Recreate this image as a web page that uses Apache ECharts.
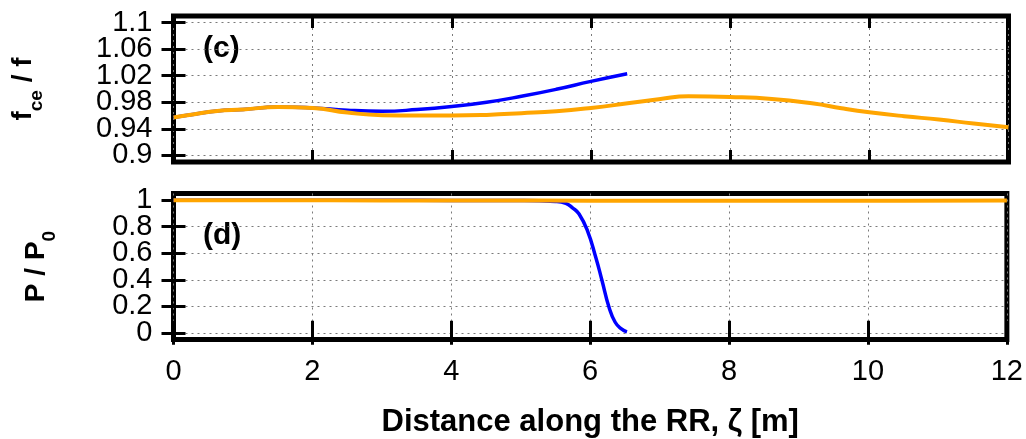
<!DOCTYPE html>
<html>
<head>
<meta charset="utf-8">
<script src="https://cdn.jsdelivr.net/npm/echarts@6/dist/echarts.min.js"></script>
<style>
html,body{margin:0;padding:0;background:#fff;}
#chart{width:1026px;height:439px;}
</style>
</head>
<body>
<div id="chart"></div>
<script>
// ---- data ----
var xTicks = [0, 2, 4, 6, 8, 10, 12];
var fTicks = [0.9, 0.94, 0.98, 1.02, 1.06, 1.1];
var pTicks = [0, 0.2, 0.4, 0.6, 0.8, 1];

var fOrangeX = [0, 0.3, 0.63, 1.0, 1.5, 2.0, 2.5, 3.0, 3.5, 4.0, 4.5, 5.0, 5.5, 6.0, 6.5, 7.0, 7.4, 8.0, 8.6, 9.2, 9.6, 10.0, 10.5, 11.0, 11.5, 12.0];
var fOrangeY = [0.957, 0.962, 0.967, 0.969, 0.973, 0.9715, 0.9645, 0.9605, 0.960, 0.960, 0.961, 0.9635, 0.9665, 0.9715, 0.978, 0.985, 0.989, 0.988, 0.985, 0.978, 0.971, 0.965, 0.959, 0.954, 0.948, 0.9425];

var fBlueX = [0, 0.3, 0.63, 1.0, 1.5, 2.0, 2.5, 3.0, 3.5, 4.0, 4.5, 5.0, 5.5, 6.0, 6.52];
var fBlueY = [0.957, 0.962, 0.967, 0.969, 0.973, 0.9715, 0.968, 0.9665, 0.969, 0.9735, 0.980, 0.989, 0.9995, 1.0115, 1.023];

var pOrangeX = [0, 1.5, 3, 4.5, 6, 7.5, 9, 10.5, 12];
var pOrangeY = [1.0, 0.999, 0.998, 0.997, 0.996, 0.995, 0.995, 0.996, 0.997];

var pBlueX = [0, 1, 2, 3, 4, 5, 5.5, 5.65, 5.75, 5.84, 5.96, 6.08, 6.17, 6.27, 6.36, 6.45, 6.53];
var pBlueY = [1.0, 1.0, 1.0, 0.999, 0.998, 0.997, 0.99, 0.975, 0.94, 0.895, 0.77, 0.57, 0.395, 0.195, 0.08, 0.03, 0.008];

function pairs(xs, ys) { return xs.map(function (x, i) { return [x, ys[i]]; }); }
// split tick list into two interleaved label sets so neighbouring labels never collide
function evens(a) { return a.filter(function (v, i) { return i % 2 === 0; }); }
function odds(a) { return a.filter(function (v, i) { return i % 2 === 1; }); }

var FONT = 'Liberation Sans';
var tickStyle = { show: true, inside: true, length: 12, lineStyle: { color: '#000', width: 3 } };
var gridLine = { show: true, lineStyle: { color: '#7a7a7a', width: 1, type: [2, 4] } };
var yLabelFont = { margin: 21, fontFamily: FONT, fontSize: 29, color: '#000', showMinLabel: true, showMaxLabel: true, hideOverlap: false };

function xAx(grid, pos, main) {
  return {
    type: 'value', gridIndex: grid, position: pos, min: 0, max: 12, interval: 2,
    axisLine: { show: false },
    axisTick: tickStyle,
    splitLine: main ? gridLine : { show: false },
    axisLabel: (main && grid === 1) ? { show: true, margin: 18, fontFamily: FONT, fontSize: 29, color: '#000', showMinLabel: true, showMaxLabel: true } : { show: false },
    name: (main && grid === 1) ? 'Distance along the RR, ζ [m]' : '',
    nameLocation: 'middle', nameGap: 67,
    nameTextStyle: { fontFamily: FONT, fontSize: 31, fontWeight: 'bold', color: '#000' }
  };
}
// main left axis: ticks, grid lines, one half of labels, axis title
function yMain(grid, mn, mx, ticks, name, gap) {
  return {
    type: 'value', gridIndex: grid, position: 'left', min: mn, max: mx,
    axisLine: { show: false },
    axisTick: Object.assign({}, tickStyle, { customValues: ticks }),
    splitLine: gridLine,
    axisLabel: Object.assign({ show: true, customValues: evens(ticks) }, yLabelFont),
    name: name,
    nameLocation: 'middle', nameGap: gap, nameRotate: 90,
    nameTextStyle: {
      fontFamily: FONT, fontSize: 28, fontWeight: 'bold', color: '#000',
      rich: {
        b: { fontFamily: FONT, fontSize: 28, fontWeight: 'bold', color: '#000', lineHeight: 28, verticalAlign: 'top' },
        s: { fontFamily: FONT, fontSize: 19, fontWeight: 'bold', color: '#000', lineHeight: 19, padding: [18, 0, 0, 0], verticalAlign: 'top' }
      }
    }
  };
}
// second left axis carrying the other half of the labels
function yLabels2(grid, mn, mx, ticks) {
  return {
    type: 'value', gridIndex: grid, position: 'left', offset: 0, min: mn, max: mx,
    axisLine: { show: false }, axisTick: { show: false }, splitLine: { show: false },
    axisLabel: Object.assign({ show: true, customValues: odds(ticks) }, yLabelFont)
  };
}
// mirrored right axis: ticks only
function yRight(grid, mn, mx, ticks) {
  return {
    type: 'value', gridIndex: grid, position: 'right', min: mn, max: mx,
    axisLine: { show: false },
    axisTick: Object.assign({}, tickStyle, { customValues: ticks }),
    splitLine: { show: false }, axisLabel: { show: false }
  };
}

var chart = echarts.init(document.getElementById('chart'), null, { renderer: 'canvas' });
chart.setOption({
  backgroundColor: '#fff',
  animation: false,
  grid: [
    { left: 173.5, right: 17.5, top: 16, height: 146, show: true, borderColor: '#000', borderWidth: 5, backgroundColor: 'transparent' },
    { left: 173.5, right: 17.5, top: 193.5, height: 146, show: true, borderColor: '#000', borderWidth: 5, backgroundColor: 'transparent' }
  ],
  xAxis: [xAx(0, 'bottom', true), xAx(0, 'top', false), xAx(1, 'bottom', true), xAx(1, 'top', false)],
  yAxis: [
    yMain(0, 0.89, 1.11, fTicks, '{b|f}{s|ce}{b| / f}', 136),
    yRight(0, 0.89, 1.11, fTicks),
    yMain(1, -0.05, 1.05, pTicks, '{b|P / P}{s|0}', 123),
    yRight(1, -0.05, 1.05, pTicks),
    yLabels2(0, 0.89, 1.11, fTicks),
    yLabels2(1, -0.05, 1.05, pTicks)
  ],
  graphic: [
    { type: 'text', left: 203, top: 34, style: { text: '(c)', font: 'bold 30px "Liberation Sans"', fill: '#000' } },
    { type: 'text', left: 203, top: 221, style: { text: '(d)', font: 'bold 30px "Liberation Sans"', fill: '#000' } }
  ],
  series: [
    { type: 'line', xAxisIndex: 0, yAxisIndex: 0, data: pairs(fBlueX, fBlueY), showSymbol: false, smooth: 0.5, lineStyle: { color: '#0000ff', width: 3.5 }, z: 3 },
    { type: 'line', xAxisIndex: 0, yAxisIndex: 0, data: pairs(fOrangeX, fOrangeY), showSymbol: false, smooth: 0.5, lineStyle: { color: '#ffa500', width: 4 }, z: 4 },
    { type: 'line', xAxisIndex: 2, yAxisIndex: 2, data: pairs(pBlueX, pBlueY), showSymbol: false, smooth: 0.5, lineStyle: { color: '#0000ff', width: 3.5 }, z: 3 },
    { type: 'line', xAxisIndex: 2, yAxisIndex: 2, data: pairs(pOrangeX, pOrangeY), showSymbol: false, smooth: 0.5, lineStyle: { color: '#ffa500', width: 4 }, z: 4 }
  ]
});
</script>
</body>
</html>
